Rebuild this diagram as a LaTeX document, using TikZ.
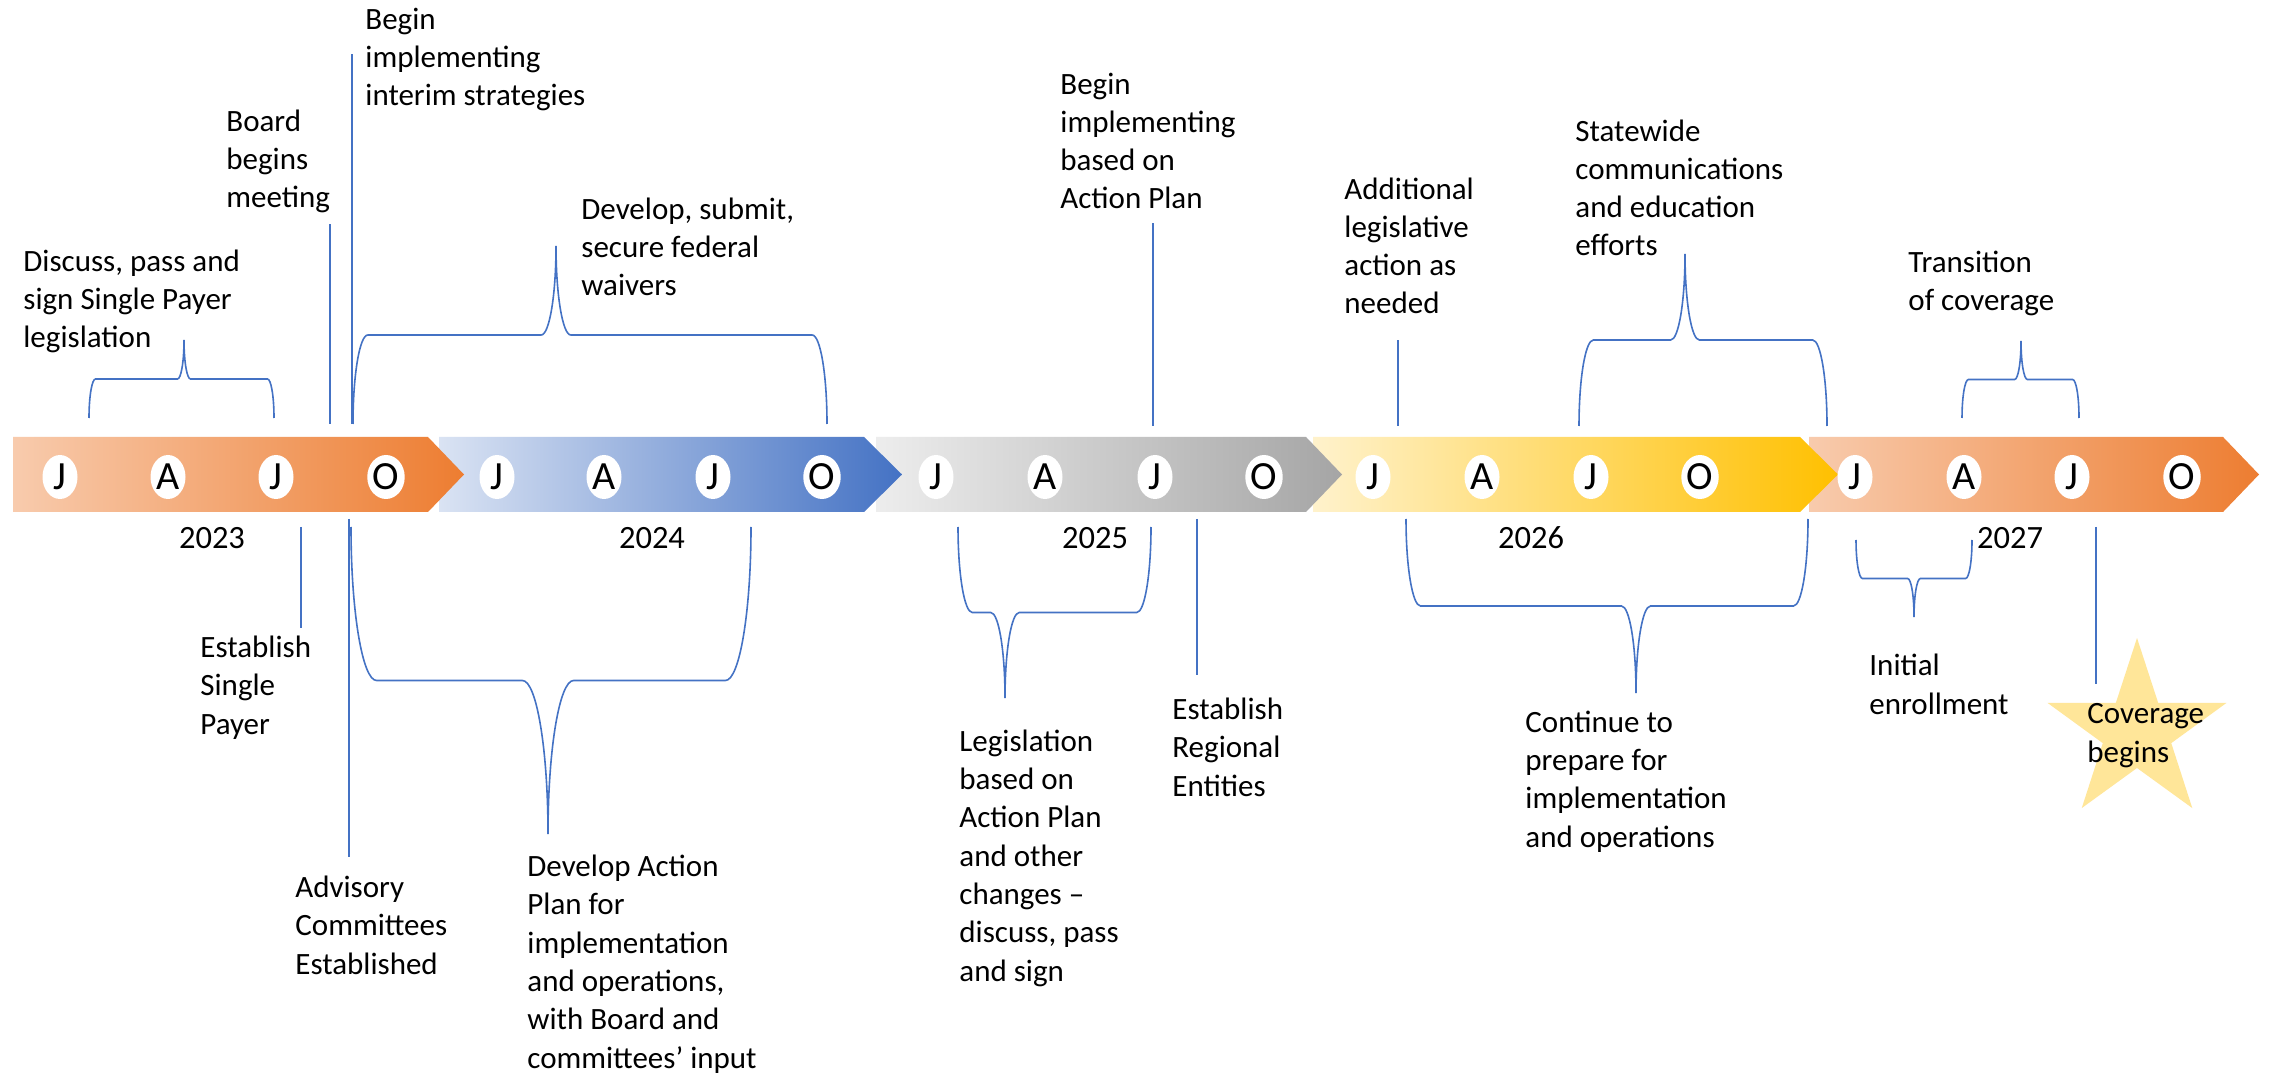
\documentclass[tikz,border=0pt]{standalone}
\usepackage{fontspec}
\setmainfont{Carlito}
\usetikzlibrary{shapes.geometric}

\definecolor{linkblue}{HTML}{4472C4}
\definecolor{orA}{HTML}{F8CBAD}
\definecolor{orB}{HTML}{ED7D31}
\definecolor{blA}{HTML}{DAE3F3}
\definecolor{blB}{HTML}{4472C4}
\definecolor{grA}{HTML}{EDEDED}
\definecolor{grB}{HTML}{A5A5A5}
\definecolor{yeA}{HTML}{FFF2CC}
\definecolor{yeB}{HTML}{FFC000}
\definecolor{starfill}{HTML}{FFE699}

% one year segment of the arrow band: left edge, body end, tip, two shade colours
\newcommand{\tlseg}[5]{%
  \shade[left color=#4,right color=#5]
    (#1,437) -- (#2,437) -- (#3,474.5) -- (#2,512) -- (#1,512) -- cycle;
}

% curly brace: left end x, right end x, point x, y of the ends, y of the point, name
\newcommand{\tlbrace}[6]{%
  \pgfmathsetmacro{\tlbM}{(#4+#5)/2}%
  \pgfmathsetmacro{\tlbR}{abs(#5-#4)/12}%
  \pgfmathsetmacro{\tlbYa}{#4+0.5523*(\tlbM-#4)}%
  \pgfmathsetmacro{\tlbYb}{#5+0.5523*(\tlbM-#5)}%
  \pgfmathsetmacro{\tlbXla}{#1+\tlbR}%
  \pgfmathsetmacro{\tlbXlc}{#1+0.4477*\tlbR}%
  \pgfmathsetmacro{\tlbXpa}{#3-\tlbR}%
  \pgfmathsetmacro{\tlbXpc}{#3-0.4477*\tlbR}%
  \pgfmathsetmacro{\tlbXqa}{#3+\tlbR}%
  \pgfmathsetmacro{\tlbXqc}{#3+0.4477*\tlbR}%
  \pgfmathsetmacro{\tlbXra}{#2-\tlbR}%
  \pgfmathsetmacro{\tlbXrc}{#2-0.4477*\tlbR}%
  \coordinate (#6-l) at (#1,#4);
  \coordinate (#6-r) at (#2,#4);
  \coordinate (#6-t) at (#3,#5);
  \draw[conn] (#6-l) .. controls (#1,\tlbYa) and (\tlbXlc,\tlbM) .. (\tlbXla,\tlbM)
    -- (\tlbXpa,\tlbM) .. controls (\tlbXpc,\tlbM) and (#3,\tlbYb) .. (#6-t)
    .. controls (#3,\tlbYb) and (\tlbXqc,\tlbM) .. (\tlbXqa,\tlbM)
    -- (\tlbXra,\tlbM) .. controls (\tlbXrc,\tlbM) and (#2,\tlbYa) .. (#6-r);
}

\begin{document}
\begin{tikzpicture}[x=0.5pt,y=-0.5pt,
  conn/.style={draw=linkblue,line width=0.8pt},
  mon/.style={ellipse,fill=white,minimum width=17.5pt,minimum height=22pt,
    inner sep=0pt,font=\fontsize{20}{20}\selectfont},
  yr/.style={anchor=base,inner sep=0pt,font=\fontsize{16.25}{18}\selectfont},
  % labels are placed by the baseline of their last line
  lbl/.style={anchor=base west,align=left,inner sep=0pt,
    font=\fontsize{15.5}{19.15}\selectfont}]

\useasboundingbox[fill=white] (0,0) rectangle (2269,1074);

% arrow band, drawn right to left so each tip lies over the next segment
\tlseg{1809}{2223}{2259}{orA}{orB}
\tlseg{1313}{1800}{1838}{yeA}{yeB}
\tlseg{876}{1306}{1342}{grA}{grB}
\tlseg{439}{864}{902}{blA}{blB}
\tlseg{13}{428}{464}{orA}{orB}

% quarter markers
\foreach \x/\m [count=\i] in {60/J,168/A,276/J,386/O,
    497/J,604/A,713/J,822/O,
    936/J,1045/A,1155/J,1264/O,
    1373/J,1482/A,1591/J,1700/O,
    1855/J,1964/A,2072/J,2182/O}
  \node[mon] (mon\i) at (\x,477) {\m};

% years
\node[yr] (y2023) at (212,549) {2023};
\node[yr] (y2024) at (652,549) {2024};
\node[yr] (y2025) at (1095,549) {2025};
\node[yr] (y2026) at (1531,549) {2026};
\node[yr] (y2027) at (2010,549) {2027};

% milestone star
\fill[starfill,shift={(2137,732)}] (-90:94) -- (-54:36) -- (-18:94) -- (18:36)
  -- (54:94) -- (90:36) -- (126:94) -- (162:36) -- (198:94) -- (234:36) -- cycle;

% labels above the band
\node[lbl] (t-legis) at (23,348) {Discuss, pass and\\sign Single Payer\\legislation};
\node[lbl] (t-board) at (226,208) {Board\\begins\\meeting};
\node[lbl] (t-interim) at (365,106) {Begin\\implementing\\interim strategies};
\node[lbl] (t-waiver) at (581,296) {Develop, submit,\\secure federal\\waivers};
\node[lbl] (t-begin) at (1060,209) {Begin\\implementing\\based on\\Action Plan};
\node[lbl] (t-addl) at (1344,314) {Additional\\legislative\\action as\\needed};
\node[lbl] (t-comm) at (1575,256) {Statewide\\communications\\and education\\efforts};
\node[lbl] (t-trans) at (1908,311) {Transition\\of coverage};

% labels below the band
\node[lbl] (t-estsp) at (200,734) {Establish\\Single\\Payer};
\node[lbl] (t-adv) at (295,974) {Advisory\\Committees\\Established};
\node[lbl] (t-plan) at (527,1068) {Develop Action\\Plan for\\implementation\\and operations,\\with Board and\\committees’ input};
\node[lbl] (t-law) at (959,981) {Legislation\\based on\\Action Plan\\and other\\changes –\\discuss, pass\\and sign};
\node[lbl] (t-reg) at (1172,796) {Establish\\Regional\\Entities};
\node[lbl] (t-prep) at (1525,847) {Continue to\\prepare for\\implementation\\and operations};
\node[lbl] (t-enrol) at (1869,714) {Initial\\enrollment};
\node[lbl] (t-cov) at (2087,762) {Coverage\\begins};

% single-date leaders above
\coordinate (c-board-a) at (330,424);   \coordinate (c-board-b) at (330,224);
\coordinate (c-interim-a) at (352,424); \coordinate (c-interim-b) at (352,54);
\coordinate (c-begin-a) at (1153,426);  \coordinate (c-begin-b) at (1153,223);
\coordinate (c-addl-a) at (1398,426);   \coordinate (c-addl-b) at (1398,340);
\draw[conn] (c-board-a) -- (c-board-b);
\draw[conn] (c-interim-a) -- (c-interim-b);
\draw[conn] (c-begin-a) -- (c-begin-b);
\draw[conn] (c-addl-a) -- (c-addl-b);

% single-date leaders below
\coordinate (c-estsp-a) at (301,527);  \coordinate (c-estsp-b) at (301,628);
\coordinate (c-adv-a) at (349,519);    \coordinate (c-adv-b) at (349,857);
\coordinate (c-reg-a) at (1197,519);   \coordinate (c-reg-b) at (1197,675);
\coordinate (c-cov-a) at (2096,527);   \coordinate (c-cov-b) at (2096,684);
\draw[conn] (c-estsp-a) -- (c-estsp-b);
\draw[conn] (c-adv-a) -- (c-adv-b);
\draw[conn] (c-reg-a) -- (c-reg-b);
\draw[conn] (c-cov-a) -- (c-cov-b);

% period braces above
\tlbrace{89}{274}{184}{418}{340}{br-legis}
\tlbrace{353}{827}{556}{424}{246}{br-waiver}
\tlbrace{1579}{1827}{1685}{426}{254}{br-comm}
\tlbrace{1962}{2079}{2021}{418}{341}{br-trans}

% period braces below
\tlbrace{351}{751}{548}{527}{834}{br-plan}
\tlbrace{958}{1151}{1005}{527}{698}{br-law}
\tlbrace{1406}{1808}{1636}{519}{693}{br-prep}
\tlbrace{1856}{1972}{1914}{540}{617}{br-enrol}

\end{tikzpicture}
\end{document}
